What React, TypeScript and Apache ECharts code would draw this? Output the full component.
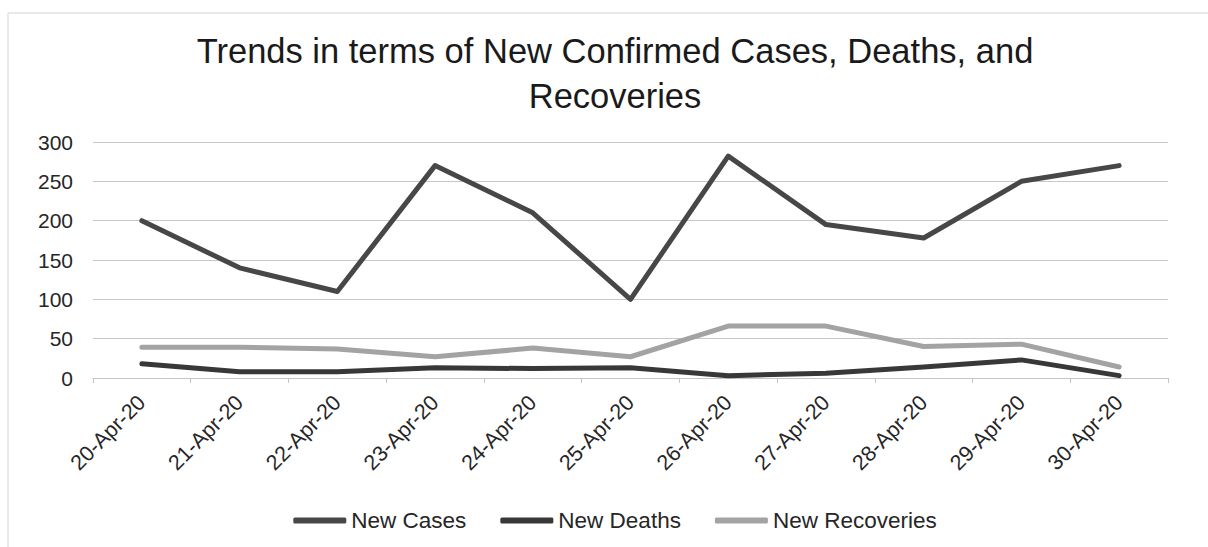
import React, { useEffect, useRef } from "react";
import * as echarts from "echarts";

const categories = [
  "20-Apr-20", "21-Apr-20", "22-Apr-20", "23-Apr-20", "24-Apr-20", "25-Apr-20",
  "26-Apr-20", "27-Apr-20", "28-Apr-20", "29-Apr-20", "30-Apr-20",
];
const newCases = [200, 140, 110, 270, 210, 100, 282, 195, 178, 250, 270];
const newDeaths = [18, 8, 8, 13, 12, 13, 3, 6, 14, 23, 3];
const newRecoveries = [39, 39, 37, 27, 38, 27, 66, 66, 40, 43, 14];
const seriesNames = ["New Cases", "New Deaths", "New Recoveries"];
const titleText = "Trends in terms of New Confirmed Cases, Deaths, and\nRecoveries";

const FONT = "'Liberation Sans', Arial, sans-serif";

export default function App() {
  const ref = useRef<HTMLDivElement>(null);
  useEffect(() => {
    if (!ref.current) return;
    const chart = echarts.init(ref.current, undefined, { renderer: "svg" });
    const mk = (name: string, data: number[], color: string) => ({
      name,
      type: "line",
      data,
      symbol: "none",
      showSymbol: false,
      lineStyle: { color, width: 5, cap: "round", join: "round" },
      itemStyle: { color },
    });
    chart.setOption({
      animation: false,
      backgroundColor: "#ffffff",
      title: {
        text: titleText,
        left: "center",
        top: 28,
        padding: 0,
        textStyle: {
          fontFamily: FONT,
          fontSize: 34.5,
          lineHeight: 45,
          fontWeight: "normal",
          color: "#1a1a1a",
        },
      },
      graphic: [
        {
          type: "rect",
          shape: { x: 8, y: 13, width: 1400, height: 800 },
          style: { fill: "none", stroke: "#d4d4d4", lineWidth: 1 },
          silent: true,
          z: -1,
        },
      ],
      legend: {
        data: seriesNames,
        bottom: 10,
        left: "center",
        icon: "roundRect",
        itemWidth: 53,
        itemHeight: 6,
        itemGap: 34,
        textStyle: { fontFamily: FONT, fontSize: 22.5, color: "#262626" },
      },
      grid: { left: 93, right: 62, top: 142, bottom: 169 },
      xAxis: {
        type: "category",
        data: categories,
        boundaryGap: true,
        axisLine: { lineStyle: { color: "#c4c4c4", width: 1 } },
        axisTick: { show: true, length: 5, lineStyle: { color: "#c4c4c4" } },
        axisLabel: {
          rotate: 45,
          margin: 21,
          interval: 0,
          fontFamily: FONT,
          fontSize: 21.5,
          color: "#262626",
        },
      },
      yAxis: {
        type: "value",
        min: 0,
        max: 300,
        interval: 50,
        axisLine: { show: false },
        axisTick: { show: false },
        splitLine: { lineStyle: { color: "#c8c8c8", width: 1 } },
        axisLabel: {
          margin: 20,
          fontFamily: FONT,
          fontSize: 21,
          color: "#262626",
        },
      },
      series: [
        mk(seriesNames[0], newCases, "#474747"),
        mk(seriesNames[1], newDeaths, "#383838"),
        mk(seriesNames[2], newRecoveries, "#a3a3a3"),
      ],
    });
    return () => chart.dispose();
  }, []);
  return (
    <div
      style={{
        position: "fixed",
        left: 0,
        top: 0,
        width: 1208,
        height: 547,
        overflow: "hidden",
        background: "#fff",
      }}
    >
      <div ref={ref} style={{ width: 1230, height: 547 }} />
    </div>
  );
}
